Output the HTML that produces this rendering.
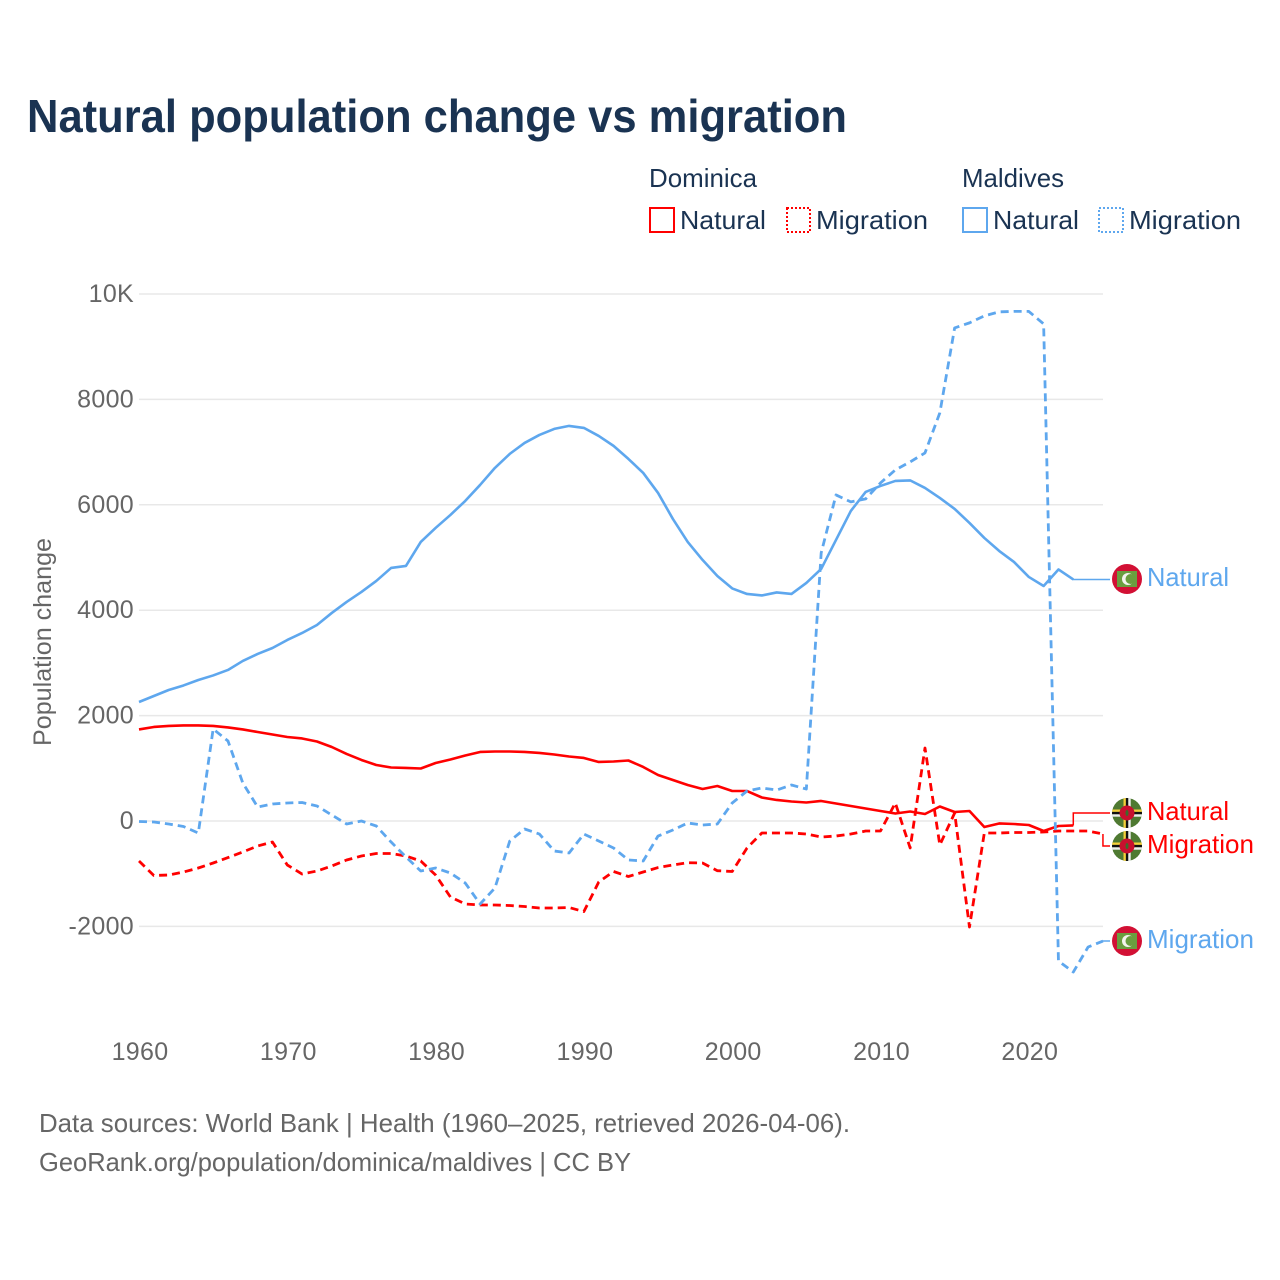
<!DOCTYPE html>
<html lang="en">
<head>
<meta charset="utf-8">
<title>Natural population change vs migration</title>
<style>
html,body{margin:0;padding:0;background:#fff;}
svg{display:block;font-family:"Liberation Sans",sans-serif;}
.tick{fill:#666;font-size:25px;}
.leg{fill:#1a3352;font-size:26px;}
.foot{fill:#666;font-size:26px;}
.end{font-size:26px;}
</style>
</head>
<body>
<svg id="chart" width="1280" height="1280" viewBox="0 0 1280 1280" xmlns="http://www.w3.org/2000/svg">
  <rect width="1280" height="1280" fill="#fff"/>
  <text x="27" y="132" font-size="46" font-weight="700" fill="#1a3352" textLength="820" lengthAdjust="spacingAndGlyphs">Natural population change vs migration</text>

  <g>
    <text class="leg" x="649" y="187" textLength="108" lengthAdjust="spacingAndGlyphs">Dominica</text>
    <text class="leg" x="962" y="187" textLength="102" lengthAdjust="spacingAndGlyphs">Maldives</text>
    <g>
      <rect x="650" y="208" width="24" height="24" fill="none" stroke="#ff0000" stroke-width="2"/>
      <text class="leg" x="680" y="229" textLength="86" lengthAdjust="spacingAndGlyphs">Natural</text>
    </g>
    <g>
      <rect x="787" y="208" width="23" height="24" fill="none" stroke="#ff0000" stroke-width="2" stroke-dasharray="2 2"/>
      <text class="leg" x="816" y="229" textLength="112" lengthAdjust="spacingAndGlyphs">Migration</text>
    </g>
    <g>
      <rect x="963" y="208" width="24" height="24" fill="none" stroke="#5ea7ee" stroke-width="2"/>
      <text class="leg" x="993" y="229" textLength="86" lengthAdjust="spacingAndGlyphs">Natural</text>
    </g>
    <g>
      <rect x="1099" y="208" width="24" height="24" fill="none" stroke="#5ea7ee" stroke-width="2" stroke-dasharray="2 2"/>
      <text class="leg" x="1129" y="229" textLength="112" lengthAdjust="spacingAndGlyphs">Migration</text>
    </g>
  </g>

  <text transform="translate(51,642) rotate(-90)" text-anchor="middle" font-size="25" fill="#666" textLength="208" lengthAdjust="spacingAndGlyphs">Population change</text>

  <g id="grid"></g>
  <g id="yticks"></g>
  <g id="xticks"></g>
  <g id="series"></g>

  <defs>
    <clipPath id="flag-clip-2"><circle cx="1127" cy="813" r="15"/></clipPath>
    <clipPath id="flag-clip-3"><circle cx="1127" cy="846" r="15"/></clipPath>
  </defs>

  <g>
    <circle cx="1127" cy="579" r="15" fill="#d21034"/>
    <rect x="1117" y="571" width="20" height="16" fill="#6a9e3f"/>
    <circle cx="1128" cy="579" r="6" fill="#f4f4ee"/>
    <circle cx="1130.5" cy="579" r="5" fill="#6a9e3f"/>
  </g>
  <g clip-path="url(#flag-clip-2)">
    <circle cx="1127" cy="813" r="15" fill="#4f7a32"/>
    <rect x="1112" y="809.5" width="30" height="2.4" fill="#f5cf3a"/>
    <rect x="1112" y="811.9" width="30" height="2.4" fill="#111"/>
    <rect x="1112" y="814.3" width="30" height="2.4" fill="#eee"/>
    <rect x="1123.5" y="798" width="2.4" height="30" fill="#f5cf3a"/>
    <rect x="1125.9" y="798" width="2.4" height="30" fill="#111"/>
    <rect x="1128.3" y="798" width="2.4" height="30" fill="#eee"/>
    <circle cx="1127" cy="813" r="7.5" fill="#c8102e"/>
    <ellipse cx="1127" cy="813" rx="1.5" ry="3" fill="#3d6b2b"/>
  </g>
  <g clip-path="url(#flag-clip-3)">
    <circle cx="1127" cy="846" r="15" fill="#4f7a32"/>
    <rect x="1112" y="842.5" width="30" height="2.4" fill="#f5cf3a"/>
    <rect x="1112" y="844.9" width="30" height="2.4" fill="#111"/>
    <rect x="1112" y="847.3" width="30" height="2.4" fill="#eee"/>
    <rect x="1123.5" y="831" width="2.4" height="30" fill="#f5cf3a"/>
    <rect x="1125.9" y="831" width="2.4" height="30" fill="#111"/>
    <rect x="1128.3" y="831" width="2.4" height="30" fill="#eee"/>
    <circle cx="1127" cy="846" r="7.5" fill="#c8102e"/>
    <ellipse cx="1127" cy="846" rx="1.5" ry="3" fill="#3d6b2b"/>
  </g>
  <g>
    <circle cx="1127" cy="941" r="15" fill="#d21034"/>
    <rect x="1117" y="933" width="20" height="16" fill="#6a9e3f"/>
    <circle cx="1128" cy="941" r="6" fill="#f4f4ee"/>
    <circle cx="1130.5" cy="941" r="5" fill="#6a9e3f"/>
  </g>

  <text class="end" x="1147" y="586" fill="#5ea7ee" textLength="82" lengthAdjust="spacingAndGlyphs">Natural</text>
  <text class="end" x="1147" y="820" fill="#ff0000" textLength="82" lengthAdjust="spacingAndGlyphs">Natural</text>
  <text class="end" x="1147" y="853" fill="#ff0000" textLength="107" lengthAdjust="spacingAndGlyphs">Migration</text>
  <text class="end" x="1147" y="948" fill="#5ea7ee" textLength="107" lengthAdjust="spacingAndGlyphs">Migration</text>

  <text class="foot" x="39" y="1132" textLength="811" lengthAdjust="spacingAndGlyphs">Data sources: World Bank | Health (1960–2025, retrieved 2026-04-06).</text>
  <text class="foot" x="39" y="1171" textLength="592" lengthAdjust="spacingAndGlyphs">GeoRank.org/population/dominica/maldives | CC BY</text>
</svg>
<script>
var startYear = 1960;
var yTicks = [-2000, 0, 2000, 4000, 6000, 8000, 10000];
var yTickLabels = ["-2000", "0", "2000", "4000", "6000", "8000", "10K"];
var xTicks = [1960, 1970, 1980, 1990, 2000, 2010, 2020];

var dominicaNatural = [1737,1784,1803,1813,1813,1803,1775,1737,1689,1642,1594,1566,1509,1404,1272,1158,1063,1015,1006,996,1101,1167,1243,1310,1319,1319,1310,1291,1262,1224,1196,1120,1129,1148,1025,873,778,683,607,664,569,569,446,399,370,351,380,332,285,237,190,142,180,133,275,171,190,-114,-47,-57,-76,-190,-95,-85];
var dominicaMigration = [-759,-1034,-1025,-968,-892,-797,-693,-588,-474,-399,-835,-1006,-949,-854,-740,-664,-617,-617,-664,-759,-1025,-1442,-1575,-1594,-1594,-1604,-1623,-1651,-1651,-1642,-1718,-1158,-958,-1053,-968,-883,-835,-791,-797,-943,-958,-512,-228,-228,-228,-247,-304,-285,-247,-190,-190,342,-512,1385,-455,152,-2012,-228,-228,-218,-218,-209,-190,-190,-190,-247];
var maldivesNatural = [2258,2372,2486,2572,2676,2762,2866,3037,3170,3283,3435,3568,3720,3948,4157,4346,4555,4802,4840,5295,5561,5808,6074,6377,6700,6966,7174,7326,7440,7497,7459,7307,7118,6871,6605,6225,5732,5295,4954,4650,4413,4308,4280,4337,4308,4517,4783,5333,5884,6244,6358,6453,6463,6320,6130,5922,5656,5371,5125,4916,4631,4460,4773,4584];
var maldivesMigration = [-10,-19,-57,-104,-228,1746,1518,721,266,323,342,351,285,114,-57,0,-95,-399,-683,-949,-892,-987,-1177,-1575,-1272,-380,-152,-247,-569,-607,-247,-380,-512,-740,-759,-285,-171,-38,-76,-57,342,569,626,588,683,607,5087,6187,6055,6112,6415,6662,6814,6985,7744,9357,9452,9585,9661,9670,9670,9433,-2657,-2866,-2391,-2278];

var NS = "http://www.w3.org/2000/svg";
function xScale(year) { return 139 + (year - 1960) * 14.83; }
function yScale(value) { return 821 - value * 0.0527; }

var gridGroup = document.getElementById("grid");
var yTickGroup = document.getElementById("yticks");
var xTickGroup = document.getElementById("xticks");
var seriesGroup = document.getElementById("series");

yTicks.forEach(function (value, i) {
  var line = document.createElementNS(NS, "line");
  line.setAttribute("x1", 139);
  line.setAttribute("x2", 1103);
  line.setAttribute("y1", yScale(value));
  line.setAttribute("y2", yScale(value));
  line.setAttribute("stroke", "#e8e8e8");
  line.setAttribute("stroke-width", "1.5");
  
  
  gridGroup.appendChild(line);

  var label = document.createElementNS(NS, "text");
  label.setAttribute("class", "tick");
  label.setAttribute("x", 134);
  label.setAttribute("y", yScale(value) + 8);
  label.setAttribute("text-anchor", "end");
  label.setAttribute("letter-spacing", "0.3");
  label.textContent = yTickLabels[i];
  
  
  yTickGroup.appendChild(label);
});

xTicks.forEach(function (year) {
  var label = document.createElementNS(NS, "text");
  label.setAttribute("class", "tick");
  label.setAttribute("x", xScale(year) + 1);
  label.setAttribute("y", 1060);
  label.setAttribute("text-anchor", "middle");
  label.setAttribute("letter-spacing", "0.3");
  label.textContent = String(year);
  
  
  xTickGroup.appendChild(label);
});

function pointsFor(values) {
  return values.map(function (v, i) {
    return xScale(startYear + i).toFixed(2) + "," + yScale(v).toFixed(2);
  }).join(" ");
}

function drawSeries(values, color, dashed, seriesName) {
  var line = document.createElementNS(NS, "polyline");
  line.setAttribute("points", pointsFor(values));
  line.setAttribute("fill", "none");
  line.setAttribute("stroke", color);
  line.setAttribute("stroke-width", dashed ? "2.8" : "2.6");
  line.setAttribute("stroke-linejoin", "round");
  if (dashed) line.setAttribute("stroke-dasharray", "8 5");
  
  
  seriesGroup.appendChild(line);
}

function drawConnector(values, color, labelY, connectorName) {
  var lastX = xScale(startYear + values.length - 1);
  var lastY = yScale(values[values.length - 1]);
  var connector = document.createElementNS(NS, "polyline");
  connector.setAttribute("points", lastX + "," + lastY + " " + lastX + "," + labelY + " 1110," + labelY);
  connector.setAttribute("fill", "none");
  connector.setAttribute("stroke", color);
  connector.setAttribute("stroke-width", "1.5");
  
  
  seriesGroup.appendChild(connector);
}

drawConnector(dominicaNatural, "#ff0000", 813, "connector-dominica-natural");
drawConnector(dominicaMigration, "#ff0000", 846, "connector-dominica-migration");
drawConnector(maldivesNatural, "#5ea7ee", 579.5, "connector-maldives-natural");
drawConnector(maldivesMigration, "#5ea7ee", 941, "connector-maldives-migration");
drawSeries(dominicaNatural, "#ff0000", false, "line-dominica-natural");
drawSeries(dominicaMigration, "#ff0000", true, "line-dominica-migration");
drawSeries(maldivesNatural, "#5ea7ee", false, "line-maldives-natural");
drawSeries(maldivesMigration, "#5ea7ee", true, "line-maldives-migration");
</script>
</body>
</html>
